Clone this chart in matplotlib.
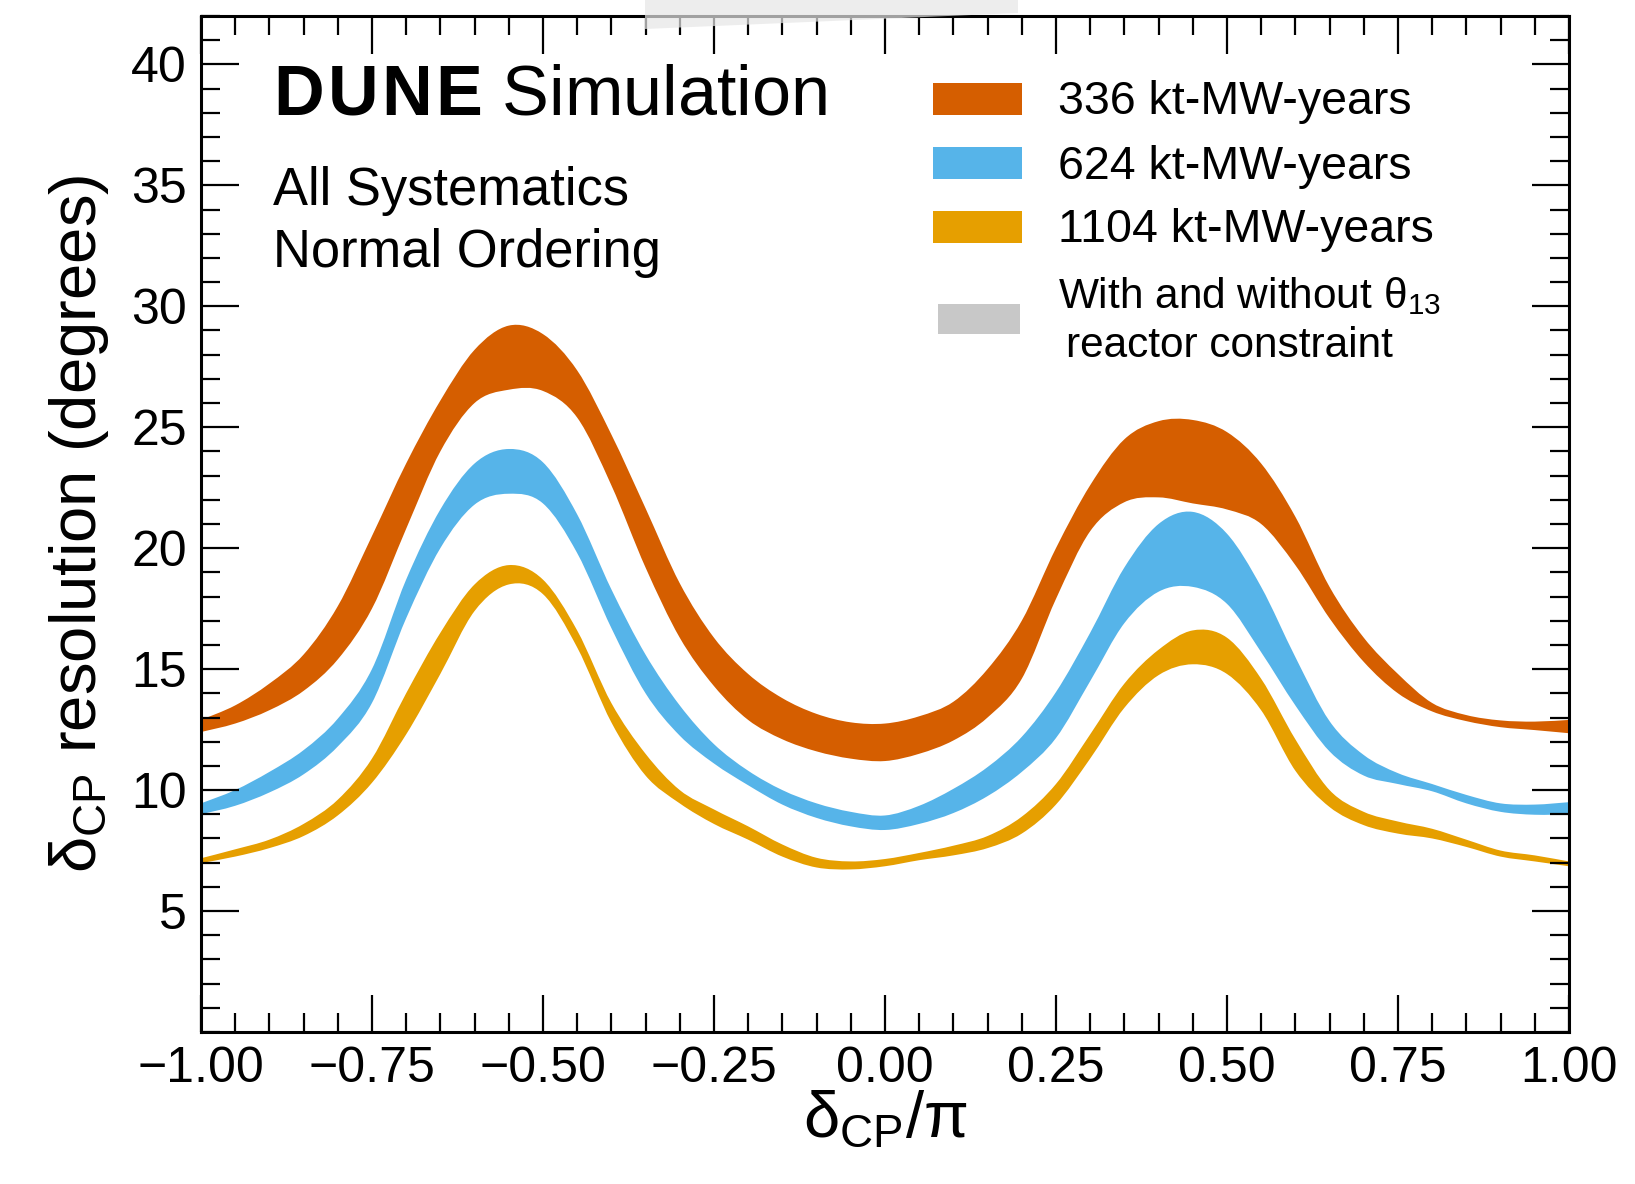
import matplotlib
matplotlib.use("Agg")
import matplotlib.pyplot as plt
from matplotlib.patches import Rectangle, Polygon, PathPatch
from matplotlib.path import Path
from matplotlib.ticker import MultipleLocator


# ============================================================
# Data
# ============================================================

DCP = [-1.00, -0.95, -0.90, -0.85, -0.80, -0.75, -0.70, -0.65, -0.60, -0.55,
       -0.50, -0.45, -0.40, -0.35, -0.30, -0.25, -0.20, -0.15, -0.10, -0.05,
       0.00, 0.05, 0.10, 0.15, 0.20, 0.25, 0.30, 0.35, 0.40, 0.45,
       0.50, 0.55, 0.60, 0.65, 0.70, 0.75, 0.80, 0.85, 0.90, 0.95, 1.00]

# 336 kt-MW-years: with / without theta13 constraint edges
EXP336_HI = [12.90, 13.50, 14.40, 15.60, 17.60, 20.50, 23.50, 26.10, 28.20, 29.20,
             28.85, 27.35, 24.70, 21.65, 18.55, 16.30, 14.80, 13.80, 13.15, 12.80,
             12.75, 13.05, 13.65, 15.00, 17.00, 20.00, 22.60, 24.50, 25.25, 25.30,
             24.80, 23.50, 21.30, 18.40, 16.30, 14.80, 13.60, 13.10, 12.88, 12.83, 12.90]
EXP336_LO = [12.40, 12.75, 13.30, 14.10, 15.40, 17.50, 20.80, 24.00, 26.00, 26.55,
             26.50, 25.40, 22.60, 19.20, 16.30, 14.30, 12.90, 12.10, 11.60, 11.30,
             11.20, 11.50, 12.05, 13.00, 14.60, 17.90, 20.70, 21.90, 22.10, 21.85,
             21.60, 21.00, 19.30, 17.10, 15.30, 14.00, 13.25, 12.85, 12.60, 12.48, 12.35]

# 624 kt-MW-years
EXP624_HI = [9.45, 10.00, 10.75, 11.65, 12.95, 15.00, 18.70, 21.60, 23.50, 24.10,
             23.55, 21.40, 18.30, 15.60, 13.50, 11.90, 10.80, 10.00, 9.45, 9.10,
             8.95, 9.35, 10.05, 10.95, 12.20, 14.05, 16.50, 19.20, 21.00, 21.50,
             20.60, 18.40, 15.50, 12.85, 11.45, 10.70, 10.25, 9.80, 9.45, 9.40, 9.50]
EXP624_LO = [9.00, 9.35, 9.90, 10.65, 11.80, 13.60, 17.10, 20.00, 21.80, 22.25,
             21.85, 19.80, 16.70, 14.00, 12.25, 11.10, 10.20, 9.40, 8.85, 8.50,
             8.35, 8.60, 9.05, 9.75, 10.75, 12.15, 14.50, 16.90, 18.20, 18.40,
             17.70, 15.70, 13.50, 11.60, 10.60, 10.25, 9.95, 9.45, 9.10, 8.98, 9.00]

# 1104 kt-MW-years
EXP1104_HI = [7.18, 7.55, 7.95, 8.60, 9.60, 11.30, 14.00, 16.50, 18.50, 19.30,
              18.70, 16.60, 13.60, 11.50, 10.00, 9.20, 8.50, 7.75, 7.20, 7.05,
              7.15, 7.40, 7.70, 8.10, 8.90, 10.25, 12.30, 14.40, 15.80, 16.60,
              16.30, 14.60, 12.10, 10.00, 9.10, 8.70, 8.40, 7.95, 7.50, 7.30, 7.05]
EXP1104_LO = [6.98, 7.25, 7.60, 8.10, 8.95, 10.30, 12.30, 14.80, 17.40, 18.50,
              18.10, 15.90, 12.80, 10.60, 9.45, 8.60, 7.95, 7.25, 6.80, 6.72,
              6.85, 7.10, 7.30, 7.60, 8.20, 9.40, 11.30, 13.40, 14.75, 15.20,
              14.80, 13.30, 10.80, 9.30, 8.55, 8.20, 8.00, 7.65, 7.25, 7.05, 6.85]

BANDS = [
    ("336 kt-MW-years", EXP336_LO, EXP336_HI, "#D55E00"),
    ("624 kt-MW-years", EXP624_LO, EXP624_HI, "#56B4E9"),
    ("1104 kt-MW-years", EXP1104_LO, EXP1104_HI, "#E69F00"),
]

X_TICKS = [-1.00, -0.75, -0.50, -0.25, 0.00, 0.25, 0.50, 0.75, 1.00]
X_TICK_LABELS = ["\u22121.00", "\u22120.75", "\u22120.50", "\u22120.25", "0.00",
                 "0.25", "0.50", "0.75", "1.00"]
Y_TICKS = [5, 10, 15, 20, 25, 30, 35, 40]


# ============================================================
# Helper: smooth (Catmull-Rom as cubic Bezier) outline through the points
# ============================================================

def bezier_through(xs, ys):
    pts = list(zip(xs, ys))
    n = len(pts)
    verts = [pts[0]]
    codes = [Path.MOVETO]
    for i in range(n - 1):
        p0 = pts[max(i - 1, 0)]
        p1 = pts[i]
        p2 = pts[i + 1]
        p3 = pts[min(i + 2, n - 1)]
        c1 = (p1[0] + (p2[0] - p0[0]) / 6, p1[1] + (p2[1] - p0[1]) / 6)
        c2 = (p2[0] - (p3[0] - p1[0]) / 6, p2[1] - (p3[1] - p1[1]) / 6)
        verts += [c1, c2, p2]
        codes += [Path.CURVE4] * 3
    return verts, codes


def band_path(xs, lo, hi):
    v_hi, c_hi = bezier_through(xs, hi)
    v_lo, c_lo = bezier_through(xs[::-1], lo[::-1])
    c_lo[0] = Path.LINETO
    verts = v_hi + v_lo + [v_hi[0]]
    codes = c_hi + c_lo + [Path.CLOSEPOLY]
    return Path(verts, codes)


# ============================================================
# Style
# ============================================================

plt.rcParams.update({
    "font.family": ["Liberation Sans", "DejaVu Sans"],
    "mathtext.fontset": "custom",
    "mathtext.rm": "Liberation Sans",
    "mathtext.bf": "Liberation Sans:bold",
    "mathtext.it": "Liberation Sans:italic",
    "mathtext.default": "regular",
})


# ============================================================
# Plot
# ============================================================

fig = plt.figure(figsize=(16.35, 11.84), dpi=100)
ax = fig.add_axes([0.1229, 0.1284, 0.8367, 0.8581])

for label, lo, hi, color in BANDS:
    ax.add_patch(PathPatch(band_path(DCP, lo, hi), facecolor=color,
                           edgecolor="none", linewidth=0))

ax.set_xlim(-1, 1)
ax.set_ylim(0, 42)

ax.set_xticks(X_TICKS)
ax.set_xticklabels(X_TICK_LABELS)
ax.set_yticks(Y_TICKS)
ax.xaxis.set_minor_locator(MultipleLocator(0.05))
ax.yaxis.set_minor_locator(MultipleLocator(1))

ax.tick_params(which="both", direction="in", top=True, right=True, width=1.6)
ax.tick_params(which="major", length=27, labelsize=36, pad=10)
ax.tick_params(which="minor", length=14)

for sp in ax.spines.values():
    sp.set_linewidth(2.2)

ax.set_ylabel("\u03b4$_{CP}$ resolution (degrees)", fontsize=47)
ax.yaxis.set_label_coords(-0.066, 0.5)
ax.set_xlabel("\u03b4$_{CP}$/\u03c0", fontsize=47)
ax.xaxis.set_label_coords(0.5, -0.056)

# Header text
ax.text(0.0526, 0.9026,
        r"$\mathbf{D\hspace{0.06}U\hspace{0.06}N\hspace{0.06}E}$ Simulation",
        fontsize=50.5, transform=ax.transAxes, va="baseline")
ax.text(0.0526, 0.814, "All Systematics", fontsize=37.8,
        transform=ax.transAxes, va="baseline")
ax.text(0.0526, 0.753, "Normal Ordering", fontsize=37.8,
        transform=ax.transAxes, va="baseline")

# Hand-placed legend
swatch_y = [0.9026, 0.8396, 0.7766]
text_y = [0.915, 0.851, 0.789]
for (label, lo, hi, color), sy, ty in zip(BANDS, swatch_y, text_y):
    ax.add_patch(Rectangle((0.535, sy), 0.065, 0.031, transform=ax.transAxes,
                           color=color, linewidth=0, clip_on=False))
    ax.text(0.6265, ty, label, fontsize=33.5, transform=ax.transAxes, va="center")

ax.add_patch(Rectangle((0.5387, 0.687), 0.060, 0.0295, transform=ax.transAxes,
                       color="#C8C8C8", linewidth=0, clip_on=False))
ax.text(0.6265, 0.724, "With and without \u03b8$_{13}$", fontsize=30.5,
        transform=ax.transAxes, va="center")
ax.text(0.632, 0.675, "reactor constraint", fontsize=30.5,
        transform=ax.transAxes, va="center")

# faint grey scrap at the top edge, as in the source image
fig.add_artist(Polygon([(645 / 1635, 1.0), (1018 / 1635, 1.0),
                        (1018 / 1635, 1 - 13 / 1184), (645 / 1635, 1 - 29 / 1184)],
                       closed=True, transform=fig.transFigure,
                       facecolor="#E6E6E6", edgecolor="none", alpha=0.7, zorder=5))

fig.savefig("out.png", dpi=100)
